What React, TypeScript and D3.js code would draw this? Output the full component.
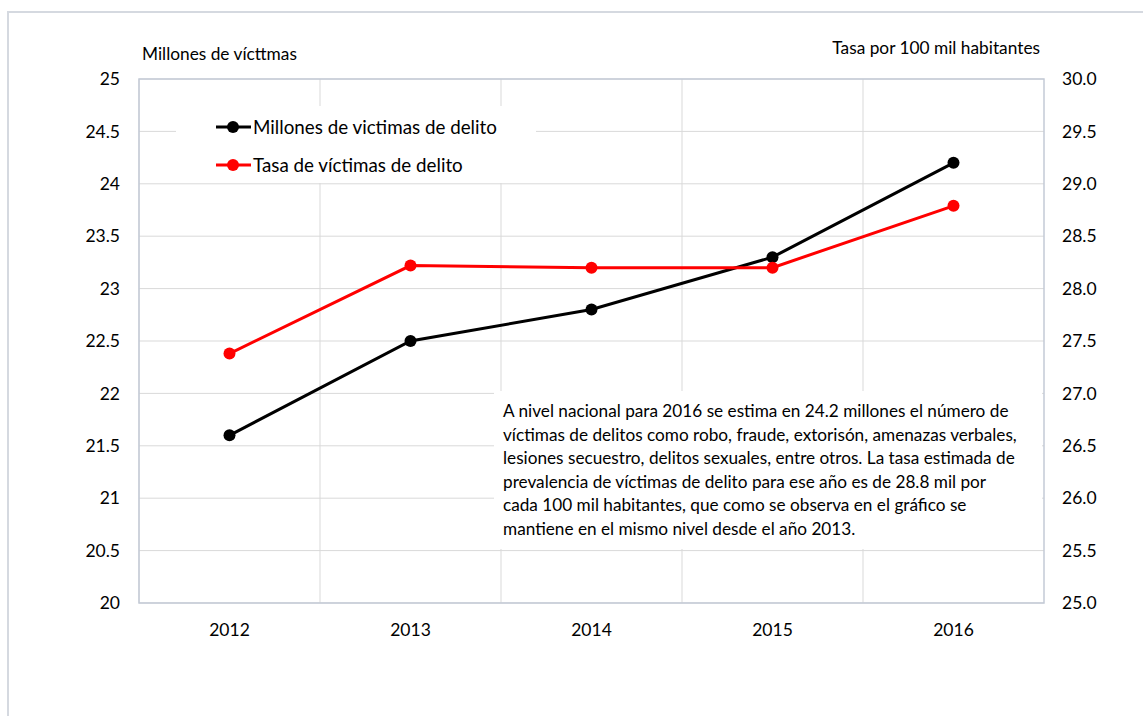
import { useRef, useEffect } from "react";
import * as d3 from "d3";

const years = ["2012", "2013", "2014", "2015", "2016"];
const millones = [21.6, 22.5, 22.8, 23.3, 24.2];
const tasa = [27.38, 28.22, 28.2, 28.2, 28.79];
const leftTicks = [20, 20.5, 21, 21.5, 22, 22.5, 23, 23.5, 24, 24.5, 25];
const rightTicks = [25, 25.5, 26, 26.5, 27, 27.5, 28, 28.5, 29, 29.5, 30];
const legendLabels = ["Millones de victimas de delito", "Tasa de víctimas de delito"];
const seriesColors = ["#000000", "#ff0000"];
const noteLines = [
  "A nivel nacional para 2016 se estima en 24.2 millones el número de",
  "víctimas de delitos como robo, fraude, extorisón, amenazas verbales,",
  "lesiones secuestro, delitos sexuales, entre otros. La tasa estimada de",
  "prevalencia de víctimas de delito para ese año es de 28.8 mil por",
  "cada 100 mil habitantes, que como se observa en el gráfico se",
  "mantiene en el mismo nivel desde el año 2013.",
];

const W = 1143;
const H = 716;
const FONT = "Lato, 'Open Sans', sans-serif";

export default function App() {
  const svgRef = useRef<SVGSVGElement>(null);

  useEffect(() => {
    if (!svgRef.current) return;
    const svg = d3.select(svgRef.current);
    svg.selectAll("*").remove();

    const m = { left: 139, right: W - 1044, top: 79, bottom: H - 603 };
    const x = d3
      .scaleBand()
      .domain(years)
      .range([m.left, W - m.right]);
    const yL = d3.scaleLinear().domain([20, 25]).range([H - m.bottom, m.top]);
    const yR = d3.scaleLinear().domain([25, 30]).range([H - m.bottom, m.top]);

    // outer frame
    svg
      .append("path")
      .attr("d", `M8,${H} L8,12 L${W},12`)
      .attr("fill", "none")
      .attr("stroke", "#d5d9e0")
      .attr("stroke-width", 2);

    // grid
    const grid = svg.append("g");
    leftTicks.forEach((t) => {
      grid
        .append("line")
        .attr("x1", m.left)
        .attr("x2", W - m.right)
        .attr("y1", yL(t))
        .attr("y2", yL(t))
        .attr("stroke", "#d9d9d9");
    });
    years.forEach((yr) => {
      grid
        .append("line")
        .attr("x1", x(yr)!)
        .attr("x2", x(yr)!)
        .attr("y1", m.top)
        .attr("y2", H - m.bottom)
        .attr("stroke", "#d9d9d9");
    });
    svg
      .append("rect")
      .attr("x", m.left)
      .attr("y", m.top)
      .attr("width", W - m.left - m.right)
      .attr("height", H - m.top - m.bottom)
      .attr("fill", "none")
      .attr("stroke", "#c3cad6")
      .attr("stroke-width", 1.5);

    // axis labels
    svg
      .append("text")
      .attr("x", 142)
      .attr("y", 60)
      .attr("font-family", FONT)
      .attr("font-size", 17.3)
      .attr("fill", "#000")
      .text("Millones de vícttmas");
    svg
      .append("text")
      .attr("x", 1040)
      .attr("y", 54)
      .attr("text-anchor", "end")
      .attr("font-family", FONT)
      .attr("font-size", 17.3)
      .attr("fill", "#000")
      .text("Tasa por 100 mil habitantes");

    // left ticks
    leftTicks.forEach((t) => {
      svg
        .append("text")
        .attr("x", 120)
        .attr("y", yL(t))
        .attr("dy", "0.35em")
        .attr("text-anchor", "end")
        .attr("font-family", FONT)
        .attr("font-size", 17.5)
        .text(String(t));
    });
    rightTicks.forEach((t) => {
      svg
        .append("text")
        .attr("x", 1062)
        .attr("y", yR(t))
        .attr("dy", "0.35em")
        .attr("font-family", FONT)
        .attr("font-size", 17.5)
        .text(t.toFixed(1));
    });
    years.forEach((yr) => {
      svg
        .append("text")
        .attr("x", x(yr)! + x.bandwidth() / 2)
        .attr("y", 636)
        .attr("text-anchor", "middle")
        .attr("font-family", FONT)
        .attr("font-size", 17.5)
        .text(yr);
    });

    // note box background
    svg
      .append("rect")
      .attr("x", 494)
      .attr("y", 391)
      .attr("width", 548)
      .attr("height", 158)
      .attr("fill", "#fff");

    // legend background
    svg
      .append("rect")
      .attr("x", 176)
      .attr("y", 106)
      .attr("width", 360)
      .attr("height", 77)
      .attr("fill", "#fff");

    const cx = (yr: string) => x(yr)! + x.bandwidth() / 2;
    const series = [
      { values: millones, scale: yL, color: seriesColors[0] },
      { values: tasa, scale: yR, color: seriesColors[1] },
    ];
    series.forEach((s) => {
      const line = d3
        .line<number>()
        .x((_, i) => cx(years[i]))
        .y((v) => s.scale(v));
      svg
        .append("path")
        .attr("d", line(s.values)!)
        .attr("fill", "none")
        .attr("stroke", s.color)
        .attr("stroke-width", 3);
      s.values.forEach((v, i) => {
        svg
          .append("circle")
          .attr("cx", cx(years[i]))
          .attr("cy", s.scale(v))
          .attr("r", 6)
          .attr("fill", s.color);
      });
    });

    // legend
    legendLabels.forEach((lab, i) => {
      const ly = 127 + i * 38;
      svg
        .append("line")
        .attr("x1", 216)
        .attr("x2", 251)
        .attr("y1", ly)
        .attr("y2", ly)
        .attr("stroke", seriesColors[i])
        .attr("stroke-width", 3);
      svg
        .append("circle")
        .attr("cx", 233)
        .attr("cy", ly)
        .attr("r", 6)
        .attr("fill", seriesColors[i]);
      svg
        .append("text")
        .attr("x", 253)
        .attr("y", ly)
        .attr("dy", "0.35em")
        .attr("font-family", FONT)
        .attr("font-size", 18.8)
        .text(lab);
    });

    // note text
    noteLines.forEach((ln, i) => {
      svg
        .append("text")
        .attr("x", 503)
        .attr("y", 417 + i * 23.6)
        .attr("font-family", FONT)
        .attr("font-size", 17.2)
        .text(ln);
    });
  }, []);

  return (
    <svg
      ref={svgRef}
      width={W}
      height={H}
      style={{ position: "absolute", left: 0, top: 0, background: "#fff" }}
    />
  );
}
